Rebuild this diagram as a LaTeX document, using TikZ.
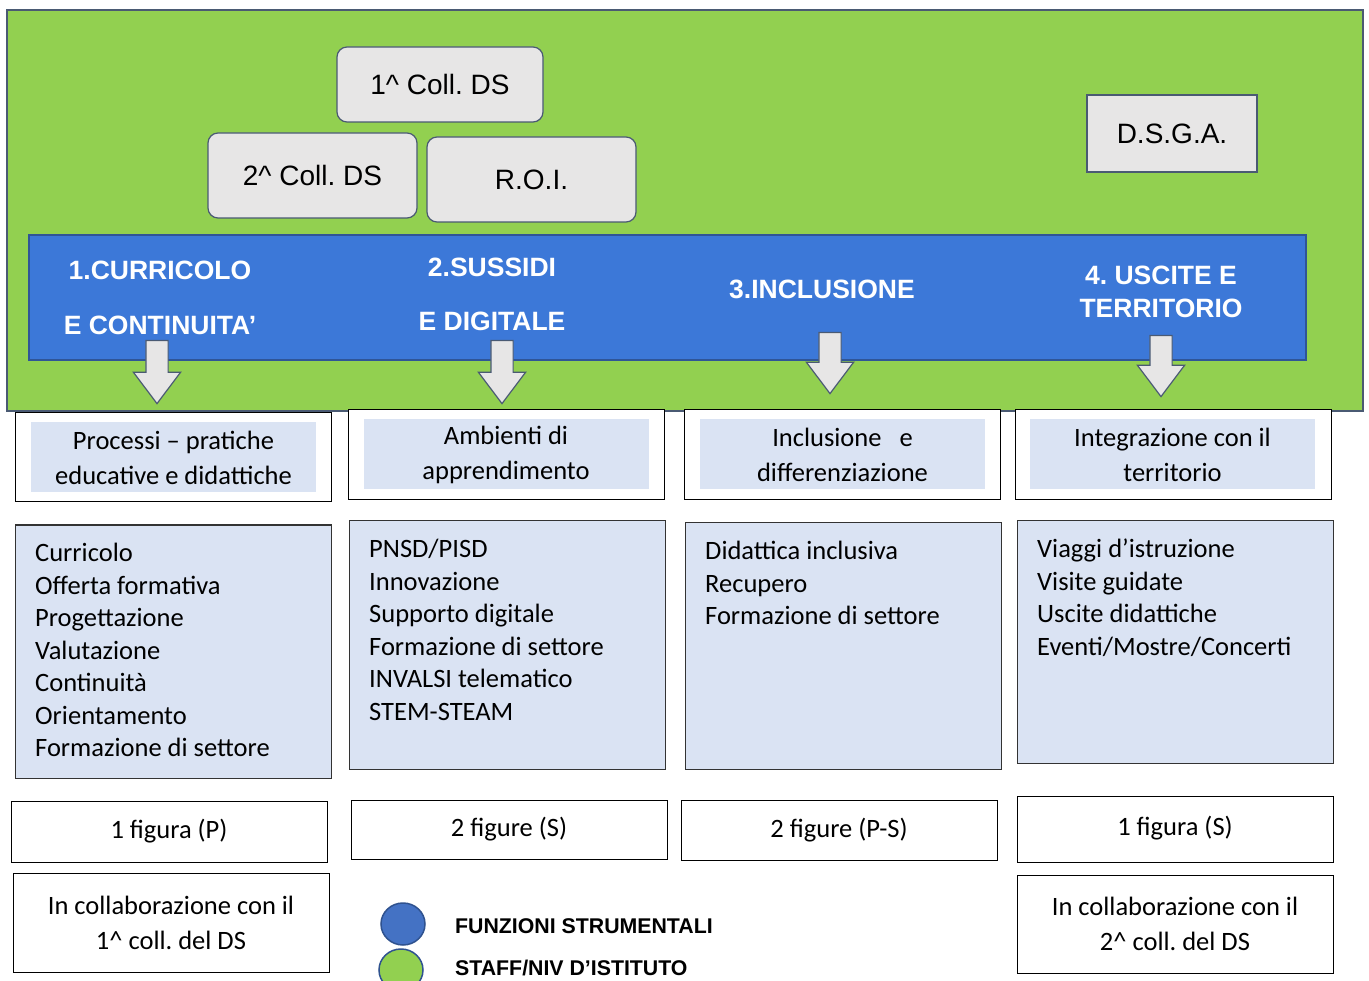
\documentclass[tikz,border=0pt]{standalone}
\usepackage{fontspec}
\setmainfont{Carlito}
\newfontfamily\arialfont{Liberation Sans}
\usetikzlibrary{shapes.arrows,shapes.geometric}
\frenchspacing

\definecolor{staffgreen}{HTML}{92D050}
\definecolor{bandblue}{HTML}{3C78D8}
\definecolor{bandline}{HTML}{2F5597}
\definecolor{boxgray}{HTML}{E7E6E6}
\definecolor{boxline}{HTML}{4A5A73}
\definecolor{paleblue}{HTML}{DAE3F3}
\definecolor{legblue}{HTML}{4472C4}
\definecolor{legline}{HTML}{2F528F}

\begin{document}
\begin{tikzpicture}[x=1pt, y=-1pt,
    every node/.style={inner sep=0pt},
    collbox/.style={draw=boxline, fill=boxgray, line width=1.2pt, rounded corners=10pt,
      font=\arialfont\fontsize{28}{32}\selectfont},
    dsgabox/.style={draw=boxline, fill=boxgray, line width=1.2pt,
      font=\arialfont\fontsize{28}{32}\selectfont},
    bandtext/.style={text=white, font=\arialfont\bfseries\fontsize{26.5}{30}\selectfont},
    downarrow/.style={single arrow, draw=boxline, fill=boxgray, line width=1.2pt,
      rotate=-90, anchor=tail, inner sep=10.5pt, minimum width=46pt,
      single arrow head extend=12.5pt, single arrow tip angle=74},
    areabox/.style={draw=black, fill=white, line width=1pt, minimum width=316pt},
    areatitle/.style={fill=paleblue, align=center, minimum width=285pt, minimum height=70pt,
      font=\fontsize{26.5}{35}\selectfont},
    taskbox/.style={draw=black!80, fill=paleblue, line width=1pt, minimum width=316pt},
    tasklist/.style={anchor=north west, align=left, font=\fontsize{26.5}{32.5}\selectfont},
    countbox/.style={draw=black, fill=white, line width=1pt, minimum width=316pt,
      align=center, font=\fontsize{26.5}{35}\selectfont},
    legdot/.style={ellipse, line width=1.5pt, minimum width=44pt, minimum height=42pt},
    legtext/.style={anchor=west, font=\arialfont\bfseries\fontsize{21.3}{25}\selectfont}
  ]
    \useasboundingbox (0, 0) rectangle (1369, 981);

    % staff area and topics
    \node[draw=boxline, fill=staffgreen, line width=1.2pt, minimum width=1356pt,
      minimum height=401pt] at (685, 210.5) (staff) {};
    \node[collbox, minimum width=206pt, minimum height=75pt] at (440, 84.5) (coll1) {1\^{} Coll. DS};
    \node[collbox, minimum width=209pt, minimum height=85pt] at (312.5, 175.5) (coll2) {2\^{} Coll. DS};
    \node[collbox, minimum width=209pt, minimum height=85pt] at (531.5, 179.5) (roi) {R.O.I.};
    \node[dsgabox, minimum width=170pt, minimum height=77pt] at (1172, 133.5) (dsga) {D.S.G.A.};

    \node[draw=bandline, fill=bandblue, line width=1.2pt, minimum width=1277pt,
      minimum height=125pt] at (667.5, 297.5) (band) {};
    \node[bandtext] at (160, 270) (fs1a) {1.CURRICOLO};
    \node[bandtext] at (160, 325) (fs1b) {E CONTINUITA’};
    \node[bandtext] at (492, 267) (fs2a) {2.SUSSIDI};
    \node[bandtext] at (492, 321) (fs2b) {E DIGITALE};
    \node[bandtext] at (822, 289) (fs3) {3.INCLUSIONE};
    \node[bandtext] at (1161, 275) (fs4a) {4. USCITE E};
    \node[bandtext] at (1161, 308) (fs4b) {TERRITORIO};

    \node[downarrow, minimum height=63pt] at (157, 340) (arr1) {};
    \node[downarrow, minimum height=63pt] at (502, 340) (arr2) {};
    \node[downarrow, minimum height=61pt] at (830, 332) (arr3) {};
    \node[downarrow, minimum height=61pt] at (1161, 335) (arr4) {};

    % areas
    \node[areabox, minimum height=89pt] at (173, 457.5) (area1) {};
    \node[areabox, minimum height=90pt] at (506, 455) (area2) {};
    \node[areabox, minimum height=90pt] at (842, 455) (area3) {};
    \node[areabox, minimum height=90pt] at (1173, 455) (area4) {};
    \node[areatitle] at (173.5, 457.5) (title1) {Processi – pratiche\\educative e didattiche};
    \node[areatitle] at (506, 454.5) (title2) {Ambienti di\\apprendimento};
    \node[areatitle] at (842.5, 454.5) (title3) {Inclusione\ \ \ e\\differenziazione};
    \node[areatitle] at (1172.5, 454.5) (title4) {Integrazione con il\\territorio};

    % tasks
    \node[taskbox, minimum height=253pt] at (173, 651.5) (task1) {};
    \node[taskbox, minimum height=248pt] at (507, 645) (task2) {};
    \node[taskbox, minimum height=246pt] at (843, 646) (task3) {};
    \node[taskbox, minimum height=242pt] at (1175, 642) (task4) {};
    \node[tasklist] at (35, 543) (list1) {Curricolo\\Offerta formativa\\Progettazione\\Valutazione\\Continuità\\Orientamento\\Formazione di settore};
    \node[tasklist] at (369, 539) (list2) {PNSD/PISD\\Innovazione\\Supporto digitale\\Formazione di settore\\INVALSI telematico\\STEM-STEAM};
    \node[tasklist] at (705, 541) (list3) {Didattica inclusiva\\Recupero\\Formazione di settore};
    \node[tasklist] at (1037, 539) (list4) {Viaggi d’istruzione\\Visite guidate\\Uscite didattiche\\Eventi/Mostre/Concerti};

    % people
    \node[countbox, minimum height=61pt] at (169, 831.5) (count1) {1 figura (P)};
    \node[countbox, minimum height=59pt] at (509, 829.5) (count2) {2 figure (S)};
    \node[countbox, minimum height=60pt] at (839, 830) (count3) {2 figure (P-S)};
    \node[countbox, minimum height=66pt] at (1175, 829) (count4) {\raisebox{6pt}{1 figura (S)}};
    \node[countbox, minimum height=99pt] at (171, 922.5) (with1) {In collaborazione con il\\1\^{} coll. del DS};
    \node[countbox, minimum height=98pt] at (1175, 924) (with2) {In collaborazione con il\\2\^{} coll. del DS};

    % legend
    \node[legdot, draw=legline, fill=legblue] at (403, 924) (dotfs) {};
    \node[legdot, draw=legline, fill=staffgreen] at (401, 970) (dotstaff) {};
    \node[legtext] at (455, 926) (legfs) {FUNZIONI STRUMENTALI};
    \node[legtext] at (455, 968) (legstaff) {STAFF/NIV D’ISTITUTO};
\end{tikzpicture}
\end{document}
